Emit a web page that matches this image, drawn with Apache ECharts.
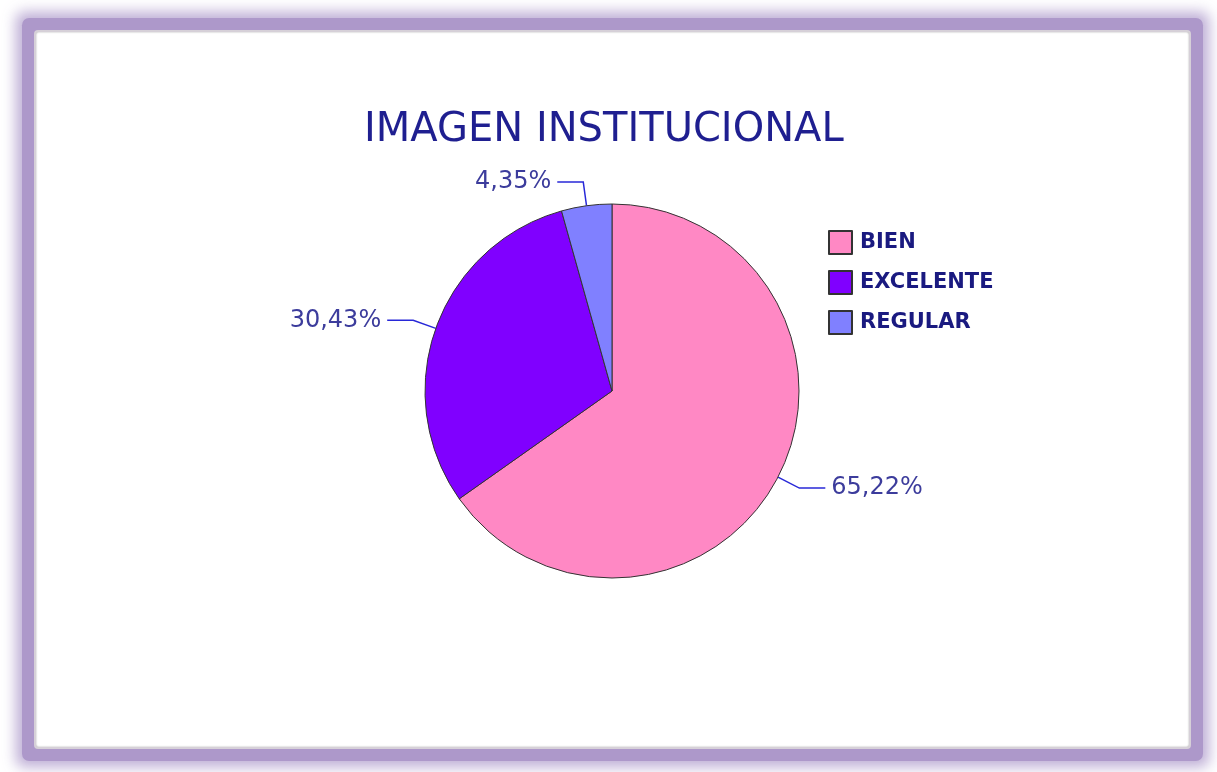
<!DOCTYPE html>
<html>
<head>
<meta charset="utf-8">
<script src="https://cdn.jsdelivr.net/npm/echarts@6/dist/echarts.min.js"></script>
<style>
  html, body { margin: 0; padding: 0; background: #fff; }
  #frame {
    position: absolute; left: 36px; top: 32px; width: 1153px; height: 715px;
    background: #fff;
    box-shadow: inset 0 0 2px rgba(0,0,0,0.35), 0 0 0 2px #d6d0d8, 0 0 0 14px #ad98ca, 0 0 14px 20px rgba(173,152,202,0.8);
    border-radius: 2px;
  }
  #main { position: absolute; left: 0; top: 0; width: 1217px; height: 772px; }
</style>
</head>
<body>
<div id="frame"></div>
<div id="main"></div>
<script>
// datos del gráfico
const categorias = ['BIEN', 'EXCELENTE', 'REGULAR'];
const porcentajes = [65.22, 30.43, 4.35];
const colores = ['#ff88c4', '#8000ff', '#8080ff'];

const chart = echarts.init(document.getElementById('main'));

const option = {
  backgroundColor: 'rgba(0,0,0,0)',
  animation: false,
  title: {
    text: 'IMAGEN INSTITUCIONAL',
    left: 364,
    top: 111,
    padding: 0,
    textStyle: {
      color: '#1f1f90',
      fontFamily: 'DejaVu Sans',
      fontWeight: 'normal',
      fontSize: 40
    }
  },
  legend: {
    orient: 'vertical',
    left: 828,
    top: 230,
    padding: 0,
    icon: 'rect',
    itemWidth: 23,
    itemHeight: 23,
    itemGap: 15,
    selectedMode: false,
    data: categorias,
    textStyle: {
      color: '#1a1a80',
      fontFamily: 'DejaVu Sans',
      fontWeight: 'bold',
      fontSize: 21,
      padding: [0, 0, 0, 3]
    }
  },
  series: [
    {
      type: 'pie',
      center: [612, 391],
      radius: 187,
      startAngle: 90,
      clockwise: true,
      avoidLabelOverlap: false,
      itemStyle: {
        borderColor: '#333333',
        borderWidth: 1
      },
      label: {
        show: true,
        formatter: p => p.value.toFixed(2).replace('.', ',') + '%',
        color: '#3c3c9c',
        fontFamily: 'DejaVu Sans',
        fontSize: 24,
        distanceToLabelLine: 6
      },
      labelLine: {
        show: true,
        length: 24,
        length2: 26,
        lineStyle: { color: '#2828d8', width: 1.5 }
      },
      data: categorias.map((c, i) => ({
        name: c,
        value: porcentajes[i],
        itemStyle: { color: colores[i] }
      }))
    }
  ]
};

chart.setOption(option);
</script>
</body>
</html>
